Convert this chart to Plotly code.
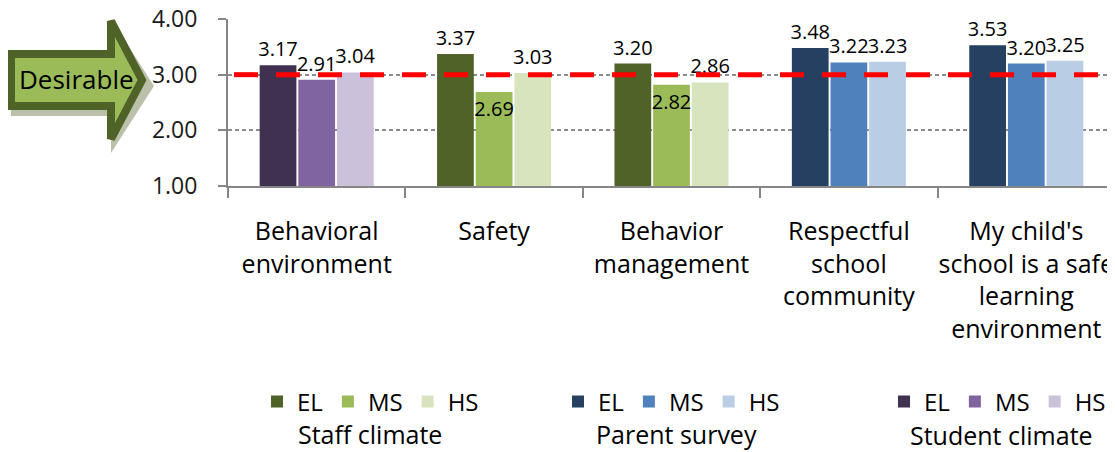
import plotly.graph_objects as go

# ---------------- data ----------------
categories = [
    "Behavioral<br>environment",
    "Safety",
    "Behavior<br>management",
    "Respectful<br>school<br>community",
    "My child's<br>school is a safe<br>learning<br>environment",
]
levels = ["EL", "MS", "HS"]

# survey -> categories it covers, values per level (EL, MS, HS)
staff_categories = ["Safety", "Behavior<br>management"]
staff_EL = [3.37, 3.20]
staff_MS = [2.69, 2.82]
staff_HS = [3.03, 2.86]

parent_categories = ["Respectful<br>school<br>community",
                     "My child's<br>school is a safe<br>learning<br>environment"]
parent_EL = [3.48, 3.53]
parent_MS = [3.22, 3.20]
parent_HS = [3.23, 3.25]

student_categories = ["Behavioral<br>environment"]
student_EL = [3.17]
student_MS = [2.91]
student_HS = [3.04]

desirable_level = 3.0
y_ticks = [1, 2, 3, 4]

# ---------------- style ----------------
FONT = "Open Sans"
OFF = 8                      # page body margin of the browser
W, H = 1115 - OFF, 452 - OFF
PL, PR, PT = 228 - OFF, 0, 19 - OFF
PB = H - (186 - OFF)
PW, PH = W - PL - PR, H - PT - PB

colors = {
    "staff": {"EL": "#4F6228", "MS": "#9BBB59", "HS": "#D7E4BD"},
    "parent": {"EL": "#254061", "MS": "#4F81BD", "HS": "#B9CDE5"},
    "student": {"EL": "#403151", "MS": "#8064A2", "HS": "#CCC1DA"},
}
# label placement per series (the reference tucks two labels onto the bar tops)
label_pos = {("staff", "MS"): "inside"}

surveys = [
    ("staff", "Staff climate", "legend", staff_categories,
     {"EL": staff_EL, "MS": staff_MS, "HS": staff_HS}),
    ("parent", "Parent survey", "legend2", parent_categories,
     {"EL": parent_EL, "MS": parent_MS, "HS": parent_HS}),
    ("student", "Student climate", "legend3", student_categories,
     {"EL": student_EL, "MS": student_MS, "HS": student_HS}),
]

fig = go.Figure()
for key, title, leg, cats, vals in surveys:
    for lvl in levels:
        v = vals[lvl]
        fig.add_trace(go.Bar(
            x=cats, y=v, name=lvl, legend=leg,
            offsetgroup=lvl,
            marker=dict(color=colors[key][lvl], line=dict(width=0)),
            text=[f"{a:.2f}" for a in v],
            textposition=label_pos.get((key, lvl), "outside"),
            insidetextanchor="end",
            textangle=0,
            constraintext="none",
            cliponaxis=False,
            textfont=dict(family=FONT, size=20, color="#000000"),
            insidetextfont=dict(family=FONT, size=20, color="#000000"),
            outsidetextfont=dict(family=FONT, size=20, color="#000000"),
        ))

# reference-image pixel -> paper coordinates
def px2x(px):
    return (px - OFF - PL) / PW

def px2y(py):
    return (H - PB - (py - OFF)) / PH

shapes = []
def path_from(points, dx=0, dy=0):
    pts = [(px2x(x + dx), px2y(y + dy)) for x, y in points]
    s = "M %f,%f " % pts[0]
    for p in pts[1:]:
        s += "L %f,%f " % p
    return s + "Z"

outer = [(7, 50), (107, 50), (107, 13), (150, 80), (107, 147), (107, 110), (7, 110)]
inner = [(11, 54), (111, 54), (111, 21), (142, 80), (111, 139), (111, 106), (11, 106)]
shapes.append(dict(type="path", xref="paper", yref="paper",
                   path=path_from(outer, 4, 6),
                   fillcolor="rgba(150,158,125,0.65)", line=dict(width=0)))
shapes.append(dict(type="path", xref="paper", yref="paper",
                   path=path_from(inner),
                   fillcolor="#9BBB59", line=dict(color="#4F6228", width=8)))
shapes.append(dict(type="line", xref="paper", yref="y",
                   x0=px2x(234), x1=1.0, y0=desirable_level, y1=desirable_level,
                   line=dict(color="#FF0000", width=5, dash="24px,18px"),
                   layer="above"))

def ann(text, x, y, size=25):
    return dict(text=text, xref="paper", yref="paper", x=px2x(x), y=px2y(y),
                showarrow=False, font=dict(family=FONT, size=size, color="#000000"),
                xanchor="center", yanchor="middle")

annotations = [
    ann("Desirable", 76, 79, 26),
    ann("Staff climate", 370, 434),
    ann("Parent survey", 676, 434),
    ann("Student climate", 1001, 435),
]

leg_common = dict(orientation="h", xref="container", yref="container",
                  yanchor="middle", xanchor="left", bgcolor="rgba(0,0,0,0)",
                  font=dict(family=FONT, size=24, color="#000000"),
                  traceorder="normal", itemclick=False, itemdoubleclick=False)
leg_y = 1 - (402 - OFF) / H

fig.update_layout(
    width=W, height=H,
    margin=dict(l=PL, r=PR, t=PT, b=PB, pad=0, autoexpand=False),
    paper_bgcolor="white", plot_bgcolor="white",
    barmode="group", bargap=0.346, bargroupgap=0.05,
    showlegend=True,
    legend=dict(x=(257 - OFF) / W, y=leg_y, **leg_common),
    legend2=dict(x=(558 - OFF) / W, y=leg_y, **leg_common),
    legend3=dict(x=(884 - OFF) / W, y=leg_y, **leg_common),
    shapes=shapes,
    annotations=annotations,
    xaxis=dict(
        categoryorder="array", categoryarray=categories,
        tickson="boundaries", ticks="outside", ticklen=10, tickwidth=2,
        tickcolor="#868686", showline=True, linecolor="#868686", linewidth=2,
        showgrid=False, tickfont=dict(family=FONT, size=25, color="#000000"),
        ticklabelstandoff=22, tickangle=0, automargin=False,
    ),
    yaxis=dict(
        range=[1, 4], tickvals=y_ticks, ticktext=[f"{t:.2f}" for t in y_ticks],
        ticks="outside", ticklen=8, tickwidth=2, tickcolor="#868686",
        showline=True, linecolor="#868686", linewidth=2,
        showgrid=True, gridcolor="#8C8C8C", gridwidth=1.5, griddash="4px,3px",
        zeroline=False, tickfont=dict(family=FONT, size=23, color="#1a1a1a"),
        ticklabelstandoff=16, automargin=False, ticklabeloverflow="allow",
    ),
)

fig.write_html("out.html")
